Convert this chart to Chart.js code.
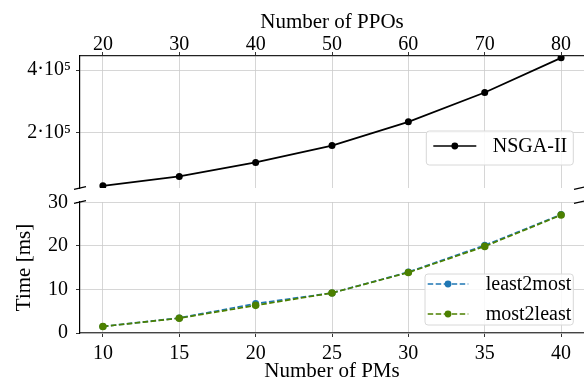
<!DOCTYPE html>
<html>
<head>
<meta charset="utf-8">
<script src="https://cdn.jsdelivr.net/npm/chart.js@4"></script>
<style>
  html, body { margin: 0; padding: 0; background: #fff; overflow: hidden; }
  #wrap { position: relative; width: 584px; height: 381px; }
  #topBox { position: absolute; left: 0; top: 0; width: 584px; height: 190px; }
  #bottomBox { position: absolute; left: 0; top: 190px; width: 584px; height: 191px; }
</style>
</head>
<body>
<div id="wrap">
  <div id="topBox"><canvas id="topChart"></canvas></div>
  <div id="bottomBox"><canvas id="bottomChart"></canvas></div>
</div>
<script>
// top panel: number of PPOs
const ppoTicks = [20, 30, 40, 50, 60, 70, 80];
const nsgaValues = [29000, 59000, 104000, 158000, 234000, 328000, 439000];
const topYTicks = [200000, 400000];

// bottom panel: number of PMs
const pmTicks = [10, 15, 20, 25, 30, 35, 40];
const least2most = [1.5, 3.45, 6.75, 9.2, 14.0, 20.15, 27.2];
const most2least = [1.5, 3.4, 6.35, 9.2, 13.9, 19.9, 27.1];
const bottomYTicks = [0, 10, 20, 30];

const serif = "'Liberation Serif', 'Times New Roman', serif";
Chart.defaults.font.family = serif;
Chart.defaults.font.size = 20;
Chart.defaults.color = "#000";
Chart.defaults.animation = false;

const gridColor = "#cccccc";

function toPoints(xs, ys) {
  return xs.map((x, i) => ({ x: x, y: ys[i] }));
}

function sciLabel(v) {
  const exp = Math.floor(Math.log10(v));
  const mant = Math.round(v / Math.pow(10, exp));
  const sup = { "0": "⁰", "1": "¹", "2": "²", "3": "³", "4": "⁴", "5": "⁵", "6": "⁶", "7": "⁷", "8": "⁸", "9": "⁹" };
  return mant + "·10" + String(exp).split("").map(c => sup[c]).join("");
}

// no automatic label overflow padding, the panels are placed by hand
function noPad(s) {
  s.paddingTop = 0;
  s.paddingBottom = 0;
  s.paddingLeft = 0;
  s.paddingRight = 0;
}

// diagonal marks where the y axis is cut
const breakMarks = {
  id: "breakMarks",
  afterDraw(chart, args, opts) {
    const ctx = chart.ctx;
    const a = chart.chartArea;
    const y = opts.side === "bottom" ? a.bottom : a.top;
    ctx.save();
    ctx.strokeStyle = "#000";
    ctx.lineWidth = 1.2;
    [a.left, a.right - 4].forEach(x => {
      ctx.beginPath();
      ctx.moveTo(x - 6, y + 1.4);
      ctx.lineTo(x + 6, y - 1.4);
      ctx.stroke();
    });
    ctx.restore();
  }
};

// matplotlib-like legend box
const boxLegend = {
  id: "boxLegend",
  afterDraw(chart, args, opts) {
    const ctx = chart.ctx;
    const a = chart.chartArea;
    const sets = chart.data.datasets;
    const x0 = a.right - opts.right - opts.width;
    const y0 = a.bottom - opts.bottom - opts.height;
    ctx.save();
    ctx.beginPath();
    ctx.roundRect(x0, y0, opts.width, opts.height, 3);
    ctx.fillStyle = "rgba(255,255,255,0.85)";
    ctx.fill();
    ctx.strokeStyle = "#d8d8d8";
    ctx.lineWidth = 1;
    ctx.stroke();
    sets.forEach((ds, i) => {
      const cy = y0 + opts.firstRow + opts.rowGap * i;
      ctx.strokeStyle = ds.borderColor;
      ctx.lineWidth = ds.borderWidth;
      ctx.setLineDash(ds.borderDash || []);
      ctx.beginPath();
      ctx.moveTo(x0 + opts.lineX0, cy);
      ctx.lineTo(x0 + opts.lineX1, cy);
      ctx.stroke();
      ctx.setLineDash([]);
      ctx.fillStyle = ds.pointBackgroundColor;
      ctx.beginPath();
      ctx.arc(x0 + (opts.lineX0 + opts.lineX1) / 2, cy, 3.4, 0, Math.PI * 2);
      ctx.fill();
      ctx.fillStyle = "#000";
      ctx.font = "20px " + serif;
      ctx.textBaseline = "middle";
      ctx.textAlign = "left";
      ctx.fillText(ds.label, x0 + opts.textX, cy + 1);
    });
    ctx.restore();
  }
};

function xScale(ticks, min, max, position, title, tickPad, titlePad, h) {
  return {
    type: "linear",
    position: position,
    min: min,
    max: max,
    afterBuildTicks: s => { s.ticks = ticks.map(v => ({ value: v })); },
    afterFit: s => { s.height = h; noPad(s); },
    ticks: { padding: tickPad, maxRotation: 0, autoSkip: false },
    grid: { color: gridColor, lineWidth: 0.8, tickLength: 4, tickColor: "#000" },
    border: { color: position === "bottom" ? "#444" : "#222", width: 1.2 },
    title: { display: true, text: title, padding: titlePad, font: { size: 21, lineHeight: 1 } }
  };
}

new Chart(document.getElementById("topChart"), {
  type: "line",
  data: {
    datasets: [{
      label: "NSGA-II",
      data: toPoints(ppoTicks, nsgaValues),
      borderColor: "#000",
      backgroundColor: "#000",
      pointBackgroundColor: "#000",
      pointBorderWidth: 0,
      pointRadius: 3.5,
      borderWidth: 1.7,
      tension: 0
    }]
  },
  options: {
    responsive: true,
    maintainAspectRatio: false,
    layout: { autoPadding: false, padding: { top: 0, right: 0, bottom: 2, left: 0 } },
    plugins: {
      legend: { display: false },
      tooltip: { enabled: false },
      breakMarks: { side: "bottom" },
      boxLegend: { width: 147, height: 34, right: 10.7, bottom: 23, firstRow: 15, rowGap: 30, lineX0: 7, lineX1: 50, textX: 66.5 }
    },
    scales: {
      x: xScale(ppoTicks, 17, 83, "top", "Number of PPOs", -5, { top: 12, bottom: 0 }, 56),
      y: {
        type: "linear",
        min: 22000,
        max: 445000,
        afterBuildTicks: s => { s.ticks = topYTicks.map(v => ({ value: v })); },
        afterFit: s => { s.width = 80; noPad(s); },
        ticks: { padding: 5, callback: v => sciLabel(v) },
        grid: { color: gridColor, lineWidth: 0.8, tickLength: 4, tickColor: "#000" },
        border: { color: "#000", width: 1.2 }
      }
    }
  },
  plugins: [breakMarks, boxLegend]
});

new Chart(document.getElementById("bottomChart"), {
  type: "line",
  data: {
    datasets: [{
      label: "least2most",
      data: toPoints(pmTicks, least2most),
      borderColor: "#1f77b4",
      backgroundColor: "#1f77b4",
      pointBackgroundColor: "#1f77b4",
      pointBorderWidth: 0,
      pointRadius: 3.5,
      borderWidth: 1.7,
      borderDash: [5.5, 2.5],
      tension: 0,
      order: 1
    }, {
      label: "most2least",
      data: toPoints(pmTicks, most2least),
      borderColor: "#4c8000",
      backgroundColor: "#4c8000",
      pointBackgroundColor: "#4c8000",
      pointBorderWidth: 0,
      pointRadius: 3.8,
      borderWidth: 1.7,
      borderDash: [5.5, 2.5],
      tension: 0,
      order: 0
    }]
  },
  options: {
    responsive: true,
    maintainAspectRatio: false,
    layout: { autoPadding: false, padding: { top: 12, right: 0, bottom: 0, left: 0 } },
    plugins: {
      legend: { display: false },
      tooltip: { enabled: false },
      breakMarks: { side: "top" },
      boxLegend: { width: 148.3, height: 51, right: 10.7, bottom: 8, firstRow: 10, rowGap: 30, lineX0: 2.7, lineX1: 43.3, textX: 60.7 }
    },
    scales: {
      x: xScale(pmTicks, 8.5, 41.5, "bottom", "Number of PMs", 4.5, { top: 0, bottom: -1 }, 48),
      y: {
        type: "linear",
        min: 0,
        max: 30.1,
        afterBuildTicks: s => { s.ticks = bottomYTicks.map(v => ({ value: v })); },
        afterFit: s => { s.width = 80; noPad(s); },
        ticks: { padding: 8 },
        grid: { color: gridColor, lineWidth: 0.8, tickLength: 4, tickColor: "#000" },
        border: { color: "#000", width: 1.2 },
        title: { display: true, text: "Time [ms]", padding: { top: 12, bottom: 0 }, font: { size: 21 } }
      }
    }
  },
  plugins: [breakMarks, boxLegend]
});
</script>
</body>
</html>
